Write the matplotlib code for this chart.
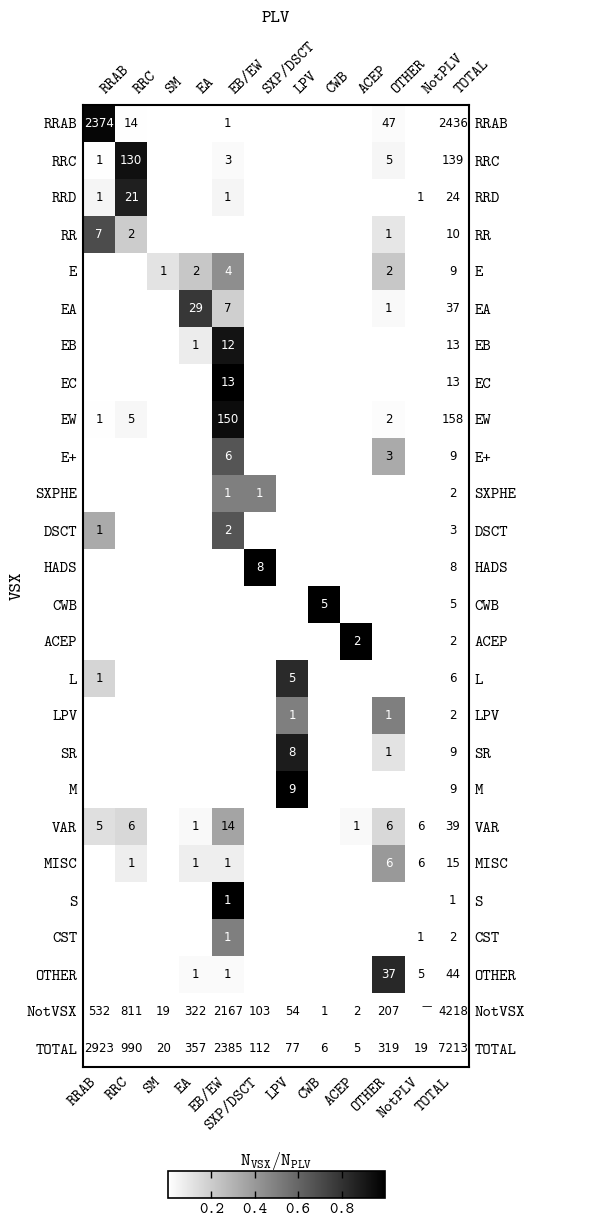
import numpy as np
import matplotlib.pyplot as plt

plt.rcParams['font.family'] = ['cmtt10', 'DejaVu Sans']
plt.rcParams['mathtext.fontset'] = 'cm'
plt.rcParams['axes.unicode_minus'] = False

vsx_types = ['RRAB', 'RRC', 'RRD', 'RR', 'E', 'EA', 'EB', 'EC', 'EW', 'E+',
             'SXPHE', 'DSCT', 'HADS', 'CWB', 'ACEP', 'L', 'LPV', 'SR', 'M',
             'VAR', 'MISC', 'S', 'CST', 'OTHER', 'NotVSX', 'TOTAL']
plv_types = ['RRAB', 'RRC', 'SM', 'EA', 'EB/EW', 'SXP/DSCT', 'LPV', 'CWB',
             'ACEP', 'OTHER', 'NotPLV', 'TOTAL']

# one row per VSX type, columns follow plv_types (None = not defined)
counts = [
    [2374, 14, 0, 0, 1, 0, 0, 0, 0, 47, 0, 2436],
    [1, 130, 0, 0, 3, 0, 0, 0, 0, 5, 0, 139],
    [1, 21, 0, 0, 1, 0, 0, 0, 0, 0, 1, 24],
    [7, 2, 0, 0, 0, 0, 0, 0, 0, 1, 0, 10],
    [0, 0, 1, 2, 4, 0, 0, 0, 0, 2, 0, 9],
    [0, 0, 0, 29, 7, 0, 0, 0, 0, 1, 0, 37],
    [0, 0, 0, 1, 12, 0, 0, 0, 0, 0, 0, 13],
    [0, 0, 0, 0, 13, 0, 0, 0, 0, 0, 0, 13],
    [1, 5, 0, 0, 150, 0, 0, 0, 0, 2, 0, 158],
    [0, 0, 0, 0, 6, 0, 0, 0, 0, 3, 0, 9],
    [0, 0, 0, 0, 1, 1, 0, 0, 0, 0, 0, 2],
    [1, 0, 0, 0, 2, 0, 0, 0, 0, 0, 0, 3],
    [0, 0, 0, 0, 0, 8, 0, 0, 0, 0, 0, 8],
    [0, 0, 0, 0, 0, 0, 0, 5, 0, 0, 0, 5],
    [0, 0, 0, 0, 0, 0, 0, 0, 2, 0, 0, 2],
    [1, 0, 0, 0, 0, 0, 5, 0, 0, 0, 0, 6],
    [0, 0, 0, 0, 0, 0, 1, 0, 0, 1, 0, 2],
    [0, 0, 0, 0, 0, 0, 8, 0, 0, 1, 0, 9],
    [0, 0, 0, 0, 0, 0, 9, 0, 0, 0, 0, 9],
    [5, 6, 0, 1, 14, 0, 0, 0, 1, 6, 6, 39],
    [0, 1, 0, 1, 1, 0, 0, 0, 0, 6, 6, 15],
    [0, 0, 0, 0, 1, 0, 0, 0, 0, 0, 0, 1],
    [0, 0, 0, 0, 1, 0, 0, 0, 0, 0, 1, 2],
    [0, 0, 0, 1, 1, 0, 0, 0, 0, 37, 5, 44],
    [532, 811, 19, 322, 2167, 103, 54, 1, 2, 207, None, 4218],
    [2923, 990, 20, 357, 2385, 112, 77, 6, 5, 319, 19, 7213],
]

nrow, ncol = len(vsx_types), len(plv_types)
ncore_r, ncore_c = nrow - 2, ncol - 2

# fraction of each VSX class that falls in a PLV class
frac = np.full((nrow, ncol), np.nan)
for i in range(ncore_r):
    for j in range(ncore_c):
        if counts[i][j]:
            frac[i, j] = counts[i][j] / counts[i][-1]
frac = np.ma.masked_invalid(frac)

fig = plt.figure(figsize=(6.02, 12.18), dpi=100)
ax = fig.add_axes([83 / 602, 1 - 1067 / 1218, 386 / 602, 962 / 1218])

mesh = ax.pcolormesh(np.arange(ncol + 1), np.arange(nrow + 1), frac,
                     cmap='gray_r', vmin=0, vmax=1)
ax.set_xlim(0, ncol)
ax.set_ylim(nrow, 0)

for i in range(nrow):
    for j in range(ncol):
        v = counts[i][j]
        if v is None:
            ax.text(j + 0.68, i + 0.36, '\u2014', ha='center', va='center',
                    fontsize=7.5, family='DejaVu Sans')
            continue
        if v == 0:
            continue
        f = frac[i, j]
        col = 'white' if (f is not np.ma.masked and f > 0.38) else 'black'
        ax.text(j + 0.5, i + 0.5, str(v), ha='center', va='center',
                fontsize=8.5, color=col, family='DejaVu Sans')

ax.set_xticks(np.arange(ncol) + 0.5)
ax.set_xticklabels(plv_types)
ax.set_yticks(np.arange(nrow) + 0.5)
ax.set_yticklabels(vsx_types)
ax.tick_params(length=0, labelsize=11.5, top=False, bottom=False, left=False,
               right=False, labeltop=True, labelbottom=True,
               labelleft=True, labelright=True)
ax.tick_params(axis='y', pad=4)
ax.tick_params(axis='x', pad=6)
for t in ax.xaxis.get_major_ticks():
    t.label1.set_rotation(45)
    t.label1.set_ha('right')
    t.label1.set_va('top')
    t.label2.set_rotation(45)
    t.label2.set_ha('left')
    t.label2.set_va('bottom')
for s in ax.spines.values():
    s.set_linewidth(1.5)

ax.set_ylabel('VSX', fontsize=13)
ax.yaxis.set_label_coords(-0.150, 0.5)
fig.text(276 / 602, 1 - 18 / 1218, 'PLV', fontsize=13, ha='center', va='center')

cax = fig.add_axes([168 / 602, 1 - 1198 / 1218, 217 / 602, 27 / 1218])
cb = fig.colorbar(mesh, cax=cax, orientation='horizontal',
                  ticks=[0.2, 0.4, 0.6, 0.8])
cax.tick_params(direction='in', top=True, bottom=True, length=5,
                labelsize=11.5, width=1)
cb.outline.set_linewidth(1.2)
cax.set_title(r'$\mathtt{N_{VSX}/N_{PLV}}$', fontsize=13, pad=4)

fig.savefig('out.png', dpi=100)
